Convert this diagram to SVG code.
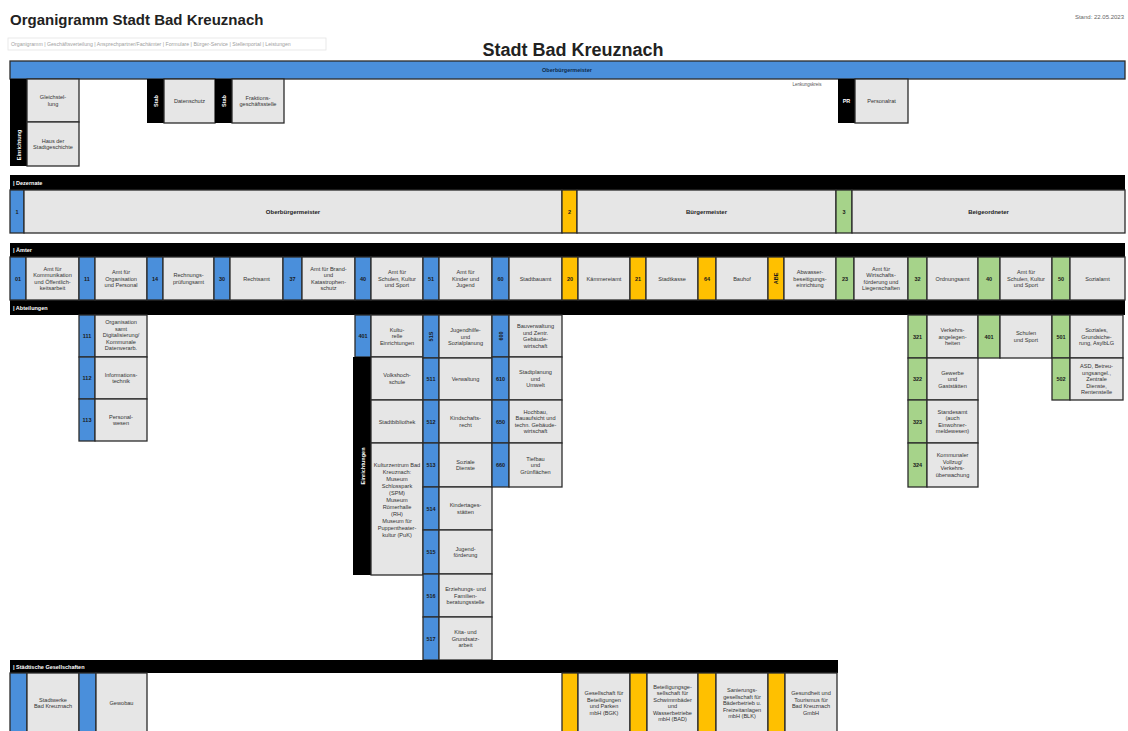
<svg xmlns="http://www.w3.org/2000/svg" width="1128" height="731" viewBox="0 0 1128 731">
<style>
.bx{fill:#e6e6e6;stroke:#2b2b2b;stroke-width:1.3}
.b{fill:#4a8fdb;stroke:#2b2b2b;stroke-width:1.3}
.y{fill:#ffc000;stroke:#2b2b2b;stroke-width:1.3}
.g{fill:#a6d38a;stroke:#2b2b2b;stroke-width:1.3}
.k{fill:#000}
text{font-family:'Liberation Sans',Arial,sans-serif}
.t{font-size:5.6px;fill:#333;text-anchor:middle}
.l{font-size:5.5px;font-weight:bold;fill:#1a1a1a;text-anchor:middle}
.lw{font-size:5.5px;font-weight:bold;fill:#fff;text-anchor:middle}
.h{font-size:5.5px;font-weight:bold;fill:#fff}
.d{font-size:6px;font-weight:bold;fill:#222;text-anchor:middle}
</style>
<rect width="1128" height="731" fill="#fff"/>
<g id="header">
<text x="10" y="25" font-size="15" font-weight="bold" fill="#222">Organigramm Stadt Bad Kreuznach</text>
<rect x="8" y="38" width="318" height="12" fill="none" stroke="#e4e4e4" stroke-width="0.8"/>
<text x="11" y="46" font-size="5.2" fill="#a0a0a0">Organigramm | Geschäftsverteilung | Ansprechpartner/Fachämter | Formulare | Bürger-Service | Stellenportal | Leistungen</text>
<text x="1124" y="19" font-size="6" fill="#666" text-anchor="end">Stand: 22.05.2023</text>
<text x="573" y="56" font-size="18" font-weight="bold" fill="#222" text-anchor="middle">Stadt Bad Kreuznach</text>
</g>
<g id="ob">
<rect class="b" x="10" y="61" width="1115" height="18"/>
<text x="567" y="72" font-size="5.5" font-weight="bold" fill="#0d2a4a" text-anchor="middle">Oberbürgermeister</text>
</g>
<g id="einrichtung-top">
<rect class="k" x="10" y="79" width="17" height="87"/>
<text class="lw" transform="translate(20.5,145) rotate(-90)">Einrichtung</text>
<rect class="bx" x="27" y="79" width="52" height="43"/>
<text class="t" x="53" y="99.3">Gleichstel-<tspan x="53" dy="6.5">lung</tspan></text>
<rect class="bx" x="27" y="122" width="52" height="44"/>
<text class="t" x="53" y="142.8">Haus der<tspan x="53" dy="6.5">Stadtgeschichte</tspan></text>
</g>
<g id="stab1">
<rect class="k" x="147" y="79" width="17" height="44"/>
<text class="lw" transform="translate(157.5,101) rotate(-90)">Stab</text>
<rect class="bx" x="164" y="79" width="51" height="44"/>
<text class="t" x="189.5" y="103">Datenschutz</text>
</g>
<g id="stab2">
<rect class="k" x="215" y="79" width="17" height="44"/>
<text class="lw" transform="translate(225.5,101) rotate(-90)">Stab</text>
<rect class="bx" x="232" y="79" width="52" height="44"/>
<text class="t" x="258" y="99.8">Fraktions-<tspan x="258" dy="6.5">geschäftsstelle</tspan></text>
</g>
<g id="pr">
<text x="807" y="86" font-size="4.5" fill="#555" text-anchor="middle">Lenkungskreis</text>
<rect class="k" x="838" y="79" width="17" height="44"/>
<text class="lw" x="846.5" y="103">PR</text>
<rect class="bx" x="855" y="79" width="53" height="44"/>
<text class="t" x="881.5" y="103">Personalrat</text>
</g>
<g id="dezernate">
<rect class="k" x="10" y="175" width="1115" height="15"/>
<text class="h" x="13" y="184.5">| Dezernate</text>
<rect class="b" x="10" y="190" width="14" height="43"/>
<text class="l" x="17" y="213.5">1</text>
<rect class="bx" x="24" y="190" width="538" height="43"/>
<text class="d" x="293" y="214">Oberbürgermeister</text>
<rect class="y" x="562" y="190" width="15" height="43"/>
<text class="l" x="569.5" y="213.5">2</text>
<rect class="bx" x="577" y="190" width="259" height="43"/>
<text class="d" x="706.5" y="214">Bürgermeister</text>
<rect class="g" x="836" y="190" width="16" height="43"/>
<text class="l" x="844" y="213.5">3</text>
<rect class="bx" x="852" y="190" width="273" height="43"/>
<text class="d" x="988.5" y="214">Beigeordneter</text>
</g>
<g id="aemter-header">
<rect class="k" x="10" y="243" width="1115" height="14"/>
<text class="h" x="13" y="252">| Ämter</text>
<rect class="k" x="10" y="300" width="1115" height="15"/>
<text class="h" x="13" y="309.5">| Abteilungen</text>
</g>
<g id="amt01">
<rect class="b" x="10" y="257" width="16" height="43"/><text class="l" x="18" y="280.5">01</text>
<rect class="bx" x="26" y="257" width="53" height="43"/>
<text class="t" x="52.5" y="270.8">Amt für<tspan x="52.5" dy="6.5">Kommunikation</tspan><tspan x="52.5" dy="6.5">und Öffentlich-</tspan><tspan x="52.5" dy="6.5">keitsarbeit</tspan></text>
</g>
<g id="amt11">
<rect class="b" x="79" y="257" width="16" height="43"/><text class="l" x="87" y="280.5">11</text>
<rect class="bx" x="95" y="257" width="52" height="43"/>
<text class="t" x="121" y="274">Amt für<tspan x="121" dy="6.5">Organisation</tspan><tspan x="121" dy="6.5">und Personal</tspan></text>
</g>
<g id="amt14">
<rect class="b" x="147" y="257" width="16" height="43"/><text class="l" x="155" y="280.5">14</text>
<rect class="bx" x="163" y="257" width="51" height="43"/>
<text class="t" x="188.5" y="277.3">Rechnungs-<tspan x="188.5" dy="6.5">prüfungsamt</tspan></text>
</g>
<g id="amt30">
<rect class="b" x="214" y="257" width="16" height="43"/><text class="l" x="222" y="280.5">30</text>
<rect class="bx" x="230" y="257" width="53" height="43"/>
<text class="t" x="256.5" y="280.5">Rechtsamt</text>
</g>
<g id="amt37">
<rect class="b" x="283" y="257" width="19" height="43"/><text class="l" x="292.5" y="280.5">37</text>
<rect class="bx" x="302" y="257" width="53" height="43"/>
<text class="t" x="328.5" y="270.8">Amt für Brand-<tspan x="328.5" dy="6.5">und</tspan><tspan x="328.5" dy="6.5">Katastrophen-</tspan><tspan x="328.5" dy="6.5">schutz</tspan></text>
</g>
<g id="amt40">
<rect class="b" x="355" y="257" width="16" height="43"/><text class="l" x="363" y="280.5">40</text>
<rect class="bx" x="371" y="257" width="52" height="43"/>
<text class="t" x="397" y="274">Amt für<tspan x="397" dy="6.5">Schulen, Kultur</tspan><tspan x="397" dy="6.5">und Sport</tspan></text>
</g>
<g id="amt51">
<rect class="b" x="423" y="257" width="16" height="43"/><text class="l" x="431" y="280.5">51</text>
<rect class="bx" x="439" y="257" width="53" height="43"/>
<text class="t" x="465.5" y="274">Amt für<tspan x="465.5" dy="6.5">Kinder und</tspan><tspan x="465.5" dy="6.5">Jugend</tspan></text>
</g>
<g id="amt60">
<rect class="b" x="492" y="257" width="17" height="43"/><text class="l" x="500.5" y="280.5">60</text>
<rect class="bx" x="509" y="257" width="53" height="43"/>
<text class="t" x="535.5" y="280.5">Stadtbauamt</text>
</g>
<g id="amt20">
<rect class="y" x="562" y="257" width="16" height="43"/><text class="l" x="570" y="280.5">20</text>
<rect class="bx" x="578" y="257" width="52" height="43"/>
<text class="t" x="604" y="280.5">Kämmereiamt</text>
</g>
<g id="amt21">
<rect class="y" x="630" y="257" width="16" height="43"/><text class="l" x="638" y="280.5">21</text>
<rect class="bx" x="646" y="257" width="52" height="43"/>
<text class="t" x="672" y="280.5">Stadtkasse</text>
</g>
<g id="amt64">
<rect class="y" x="698" y="257" width="18" height="43"/><text class="l" x="707" y="280.5">64</text>
<rect class="bx" x="716" y="257" width="52" height="43"/>
<text class="t" x="742" y="280.5">Bauhof</text>
</g>
<g id="abe">
<rect class="y" x="768" y="257" width="16" height="43"/><text class="l" transform="translate(778,278.5) rotate(-90)">ABE</text>
<rect class="bx" x="784" y="257" width="52" height="43"/>
<text class="t" x="810" y="274">Abwasser-<tspan x="810" dy="6.5">beseitigungs-</tspan><tspan x="810" dy="6.5">einrichtung</tspan></text>
</g>
<g id="amt23">
<rect class="g" x="836" y="257" width="18" height="43"/><text class="l" x="845" y="280.5">23</text>
<rect class="bx" x="854" y="257" width="54" height="43"/>
<text class="t" x="881" y="270.8">Amt für<tspan x="881" dy="6.5">Wirtschafts-</tspan><tspan x="881" dy="6.5">förderung und</tspan><tspan x="881" dy="6.5">Liegenschaften</tspan></text>
</g>
<g id="amt32">
<rect class="g" x="908" y="257" width="19" height="43"/><text class="l" x="917.5" y="280.5">32</text>
<rect class="bx" x="927" y="257" width="51" height="43"/>
<text class="t" x="952.5" y="280.5">Ordnungsamt</text>
</g>
<g id="amt40b">
<rect class="g" x="978" y="257" width="22" height="43"/><text class="l" x="989" y="280.5">40</text>
<rect class="bx" x="1000" y="257" width="52" height="43"/>
<text class="t" x="1026" y="274">Amt für<tspan x="1026" dy="6.5">Schulen, Kultur</tspan><tspan x="1026" dy="6.5">und Sport</tspan></text>
</g>
<g id="amt50">
<rect class="g" x="1052" y="257" width="18" height="43"/><text class="l" x="1061" y="280.5">50</text>
<rect class="bx" x="1070" y="257" width="55" height="43"/>
<text class="t" x="1097.5" y="280.5">Sozialamt</text>
</g>
<g id="abt111">
<rect class="b" x="79" y="315" width="16" height="42"/><text class="l" x="87" y="338">111</text>
<rect class="bx" x="95" y="315" width="52" height="42"/>
<text class="t" x="121" y="324">Organisation<tspan x="121" dy="6.5">samt</tspan><tspan x="121" dy="6.5">Digitalisierung/</tspan><tspan x="121" dy="6.5">Kommunale</tspan><tspan x="121" dy="6.5">Datenverarb.</tspan></text>
</g>
<g id="abt112">
<rect class="b" x="79" y="357" width="16" height="42"/><text class="l" x="87" y="380">112</text>
<rect class="bx" x="95" y="357" width="52" height="42"/>
<text class="t" x="121" y="376.8">Informations-<tspan x="121" dy="6.5">technik</tspan></text>
</g>
<g id="abt113">
<rect class="b" x="79" y="399" width="16" height="42"/><text class="l" x="87" y="422">113</text>
<rect class="bx" x="95" y="399" width="52" height="42"/>
<text class="t" x="121" y="418.8">Personal-<tspan x="121" dy="6.5">wesen</tspan></text>
</g>
<g id="abt401">
<rect class="b" x="355" y="315" width="16" height="42"/><text class="l" x="363" y="338">401</text>
<rect class="bx" x="371" y="315" width="52" height="42"/>
<text class="t" x="397" y="331.5">Kultu-<tspan x="397" dy="6.5">relle</tspan><tspan x="397" dy="6.5">Einrichtungen</tspan></text>
</g>
<g id="einrichtungen">
<rect class="k" x="353" y="357" width="18" height="218"/>
<text class="lw" transform="translate(365,466) rotate(-90)">Einrichtungen</text>
<rect class="bx" x="371" y="357" width="52" height="43"/>
<text class="t" x="397" y="377.3">Volkshoch-<tspan x="397" dy="6.5">schule</tspan></text>
<rect class="bx" x="371" y="400" width="52" height="43"/>
<text class="t" x="397" y="423.5">Stadtbibliothek</text>
<rect class="bx" x="371" y="443" width="52" height="132"/>
<text class="t" x="397" y="467">Kulturzentrum Bad<tspan x="397" dy="7">Kreuznach:</tspan><tspan x="397" dy="7">Museum</tspan><tspan x="397" dy="7">Schlosspark</tspan><tspan x="397" dy="7">(SPM)</tspan><tspan x="397" dy="7">Museum</tspan><tspan x="397" dy="7">Römerhalle</tspan><tspan x="397" dy="7">(RH)</tspan><tspan x="397" dy="7">Museum für</tspan><tspan x="397" dy="7">Puppentheater-</tspan><tspan x="397" dy="7">kultur (PuK)</tspan></text>
</g>
<g id="abt51s">
<rect class="b" x="423" y="315" width="16" height="43"/><text class="l" transform="translate(433,336.5) rotate(-90)">51S</text>
<rect class="bx" x="439" y="315" width="53" height="43"/>
<text class="t" x="465.5" y="332">Jugendhilfe-<tspan x="465.5" dy="6.5">und</tspan><tspan x="465.5" dy="6.5">Sozialplanung</tspan></text>
</g>
<g id="abt511">
<rect class="b" x="423" y="358" width="16" height="42"/><text class="l" x="431" y="381">511</text>
<rect class="bx" x="439" y="358" width="53" height="42"/>
<text class="t" x="465.5" y="381">Verwaltung</text>
</g>
<g id="abt512">
<rect class="b" x="423" y="400" width="16" height="43"/><text class="l" x="431" y="423.5">512</text>
<rect class="bx" x="439" y="400" width="53" height="43"/>
<text class="t" x="465.5" y="420.3">Kindschafts-<tspan x="465.5" dy="6.5">recht</tspan></text>
</g>
<g id="abt513">
<rect class="b" x="423" y="443" width="16" height="44"/><text class="l" x="431" y="467">513</text>
<rect class="bx" x="439" y="443" width="53" height="44"/>
<text class="t" x="465.5" y="463.8">Soziale<tspan x="465.5" dy="6.5">Dienste</tspan></text>
</g>
<g id="abt514">
<rect class="b" x="423" y="487" width="16" height="43"/><text class="l" x="431" y="510.5">514</text>
<rect class="bx" x="439" y="487" width="53" height="43"/>
<text class="t" x="465.5" y="507.3">Kindertages-<tspan x="465.5" dy="6.5">stätten</tspan></text>
</g>
<g id="abt515">
<rect class="b" x="423" y="530" width="16" height="44"/><text class="l" x="431" y="554">515</text>
<rect class="bx" x="439" y="530" width="53" height="44"/>
<text class="t" x="465.5" y="550.8">Jugend-<tspan x="465.5" dy="6.5">förderung</tspan></text>
</g>
<g id="abt516">
<rect class="b" x="423" y="574" width="16" height="43"/><text class="l" x="431" y="597.5">516</text>
<rect class="bx" x="439" y="574" width="53" height="43"/>
<text class="t" x="465.5" y="591">Erziehungs- und<tspan x="465.5" dy="6.5">Familien-</tspan><tspan x="465.5" dy="6.5">beratungsstelle</tspan></text>
</g>
<g id="abt517">
<rect class="b" x="423" y="617" width="16" height="43"/><text class="l" x="431" y="640.5">517</text>
<rect class="bx" x="439" y="617" width="53" height="43"/>
<text class="t" x="465.5" y="634">Kita- und<tspan x="465.5" dy="6.5">Grundsatz-</tspan><tspan x="465.5" dy="6.5">arbeit</tspan></text>
</g>
<g id="abt600">
<rect class="b" x="492" y="315" width="17" height="42"/><text class="l" transform="translate(502.5,336) rotate(-90)">600</text>
<rect class="bx" x="509" y="315" width="53" height="42"/>
<text class="t" x="535.5" y="328.3">Bauverwaltung<tspan x="535.5" dy="6.5">und Zentr.</tspan><tspan x="535.5" dy="6.5">Gebäude-</tspan><tspan x="535.5" dy="6.5">wirtschaft</tspan></text>
</g>
<g id="abt610">
<rect class="b" x="492" y="357" width="17" height="43"/><text class="l" x="500.5" y="380.5">610</text>
<rect class="bx" x="509" y="357" width="53" height="43"/>
<text class="t" x="535.5" y="374">Stadtplanung<tspan x="535.5" dy="6.5">und</tspan><tspan x="535.5" dy="6.5">Umwelt</tspan></text>
</g>
<g id="abt650">
<rect class="b" x="492" y="400" width="17" height="43"/><text class="l" x="500.5" y="423.5">650</text>
<rect class="bx" x="509" y="400" width="53" height="43"/>
<text class="t" x="535.5" y="413.8">Hochbau,<tspan x="535.5" dy="6.5">Bauaufsicht und</tspan><tspan x="535.5" dy="6.5">techn. Gebäude-</tspan><tspan x="535.5" dy="6.5">wirtschaft</tspan></text>
</g>
<g id="abt660">
<rect class="b" x="492" y="443" width="17" height="44"/><text class="l" x="500.5" y="467">660</text>
<rect class="bx" x="509" y="443" width="53" height="44"/>
<text class="t" x="535.5" y="460.5">Tiefbau<tspan x="535.5" dy="6.5">und</tspan><tspan x="535.5" dy="6.5">Grünflächen</tspan></text>
</g>
<g id="abt321">
<rect class="g" x="908" y="315" width="19" height="43"/><text class="l" x="917.5" y="338.5">321</text>
<rect class="bx" x="927" y="315" width="51" height="43"/>
<text class="t" x="952.5" y="332">Verkehrs-<tspan x="952.5" dy="6.5">angelegen-</tspan><tspan x="952.5" dy="6.5">heiten</tspan></text>
</g>
<g id="abt322">
<rect class="g" x="908" y="358" width="19" height="42"/><text class="l" x="917.5" y="381">322</text>
<rect class="bx" x="927" y="358" width="51" height="42"/>
<text class="t" x="952.5" y="374.5">Gewerbe<tspan x="952.5" dy="6.5">und</tspan><tspan x="952.5" dy="6.5">Gaststätten</tspan></text>
</g>
<g id="abt323">
<rect class="g" x="908" y="400" width="19" height="43"/><text class="l" x="917.5" y="423.5">323</text>
<rect class="bx" x="927" y="400" width="51" height="43"/>
<text class="t" x="952.5" y="413.8">Standesamt<tspan x="952.5" dy="6.5">(auch</tspan><tspan x="952.5" dy="6.5">Einwohner-</tspan><tspan x="952.5" dy="6.5">meldewesen)</tspan></text>
</g>
<g id="abt324">
<rect class="g" x="908" y="443" width="19" height="44"/><text class="l" x="917.5" y="467">324</text>
<rect class="bx" x="927" y="443" width="51" height="44"/>
<text class="t" x="952.5" y="457.3">Kommunaler<tspan x="952.5" dy="6.5">Vollzug/</tspan><tspan x="952.5" dy="6.5">Verkehrs-</tspan><tspan x="952.5" dy="6.5">überwachung</tspan></text>
</g>
<g id="abt401b">
<rect class="g" x="978" y="315" width="22" height="43"/><text class="l" x="989" y="338.5">401</text>
<rect class="bx" x="1000" y="315" width="52" height="43"/>
<text class="t" x="1026" y="335.3">Schulen<tspan x="1026" dy="6.5">und Sport</tspan></text>
</g>
<g id="abt501">
<rect class="g" x="1052" y="315" width="18" height="43"/><text class="l" x="1061" y="338.5">501</text>
<rect class="bx" x="1070" y="315" width="53" height="43"/>
<text class="t" x="1096.5" y="332">Soziales,<tspan x="1096.5" dy="6.5">Grundsiche-</tspan><tspan x="1096.5" dy="6.5">rung, AsylbLG</tspan></text>
</g>
<g id="abt502">
<rect class="g" x="1052" y="358" width="18" height="42"/><text class="l" x="1061" y="381">502</text>
<rect class="bx" x="1070" y="358" width="53" height="42"/>
<text class="t" x="1096.5" y="368">ASD, Betreu-<tspan x="1096.5" dy="6.5">ungsangel.,</tspan><tspan x="1096.5" dy="6.5">Zentrale</tspan><tspan x="1096.5" dy="6.5">Dienste,</tspan><tspan x="1096.5" dy="6.5">Rentenstelle</tspan></text>
</g>
<g id="gesellschaften-header">
<rect class="k" x="10" y="660" width="828" height="13"/>
<text class="h" x="13" y="669">| Städtische Gesellschaften</text>
</g>
<g id="stadtwerke">
<rect class="b" x="10" y="673" width="17" height="62"/>
<rect class="bx" x="27" y="673" width="52" height="62"/>
<text class="t" x="53" y="701.8">Stadtwerke<tspan x="53" dy="6.5">Bad Kreuznach</tspan></text>
</g>
<g id="gewobau">
<rect class="b" x="79" y="673" width="17" height="62"/>
<rect class="bx" x="96" y="673" width="51" height="62"/>
<text class="t" x="121.5" y="705">Gewobau</text>
</g>
<g id="bgk">
<rect class="y" x="562" y="673" width="16" height="62"/>
<rect class="bx" x="578" y="673" width="52" height="62"/>
<text class="t" x="604" y="695.3">Gesellschaft für<tspan x="604" dy="6.5">Beteiligungen</tspan><tspan x="604" dy="6.5">und Parken</tspan><tspan x="604" dy="6.5">mbH (BGK)</tspan></text>
</g>
<g id="bad">
<rect class="y" x="630" y="673" width="17" height="62"/>
<rect class="bx" x="647" y="673" width="51" height="62"/>
<text class="t" x="672.5" y="688.8">Beteiligungsge-<tspan x="672.5" dy="6.5">sellschaft für</tspan><tspan x="672.5" dy="6.5">Schwimmbäder</tspan><tspan x="672.5" dy="6.5">und</tspan><tspan x="672.5" dy="6.5">Wasserbetriebe</tspan><tspan x="672.5" dy="6.5">mbH (BAD)</tspan></text>
</g>
<g id="blk">
<rect class="y" x="698" y="673" width="18" height="62"/>
<rect class="bx" x="716" y="673" width="52" height="62"/>
<text class="t" x="742" y="692">Sanierungs-<tspan x="742" dy="6.5">gesellschaft für</tspan><tspan x="742" dy="6.5">Bäderbetrieb u.</tspan><tspan x="742" dy="6.5">Freizeitanlagen</tspan><tspan x="742" dy="6.5">mbH (BLK)</tspan></text>
</g>
<g id="gut">
<rect class="y" x="768" y="673" width="17" height="62"/>
<rect class="bx" x="785" y="673" width="52" height="62"/>
<text class="t" x="811" y="695.3">Gesundheit und<tspan x="811" dy="6.5">Tourismus für</tspan><tspan x="811" dy="6.5">Bad Kreuznach</tspan><tspan x="811" dy="6.5">GmbH</tspan></text>
</g>
<g id="connectors"/>
</svg>
